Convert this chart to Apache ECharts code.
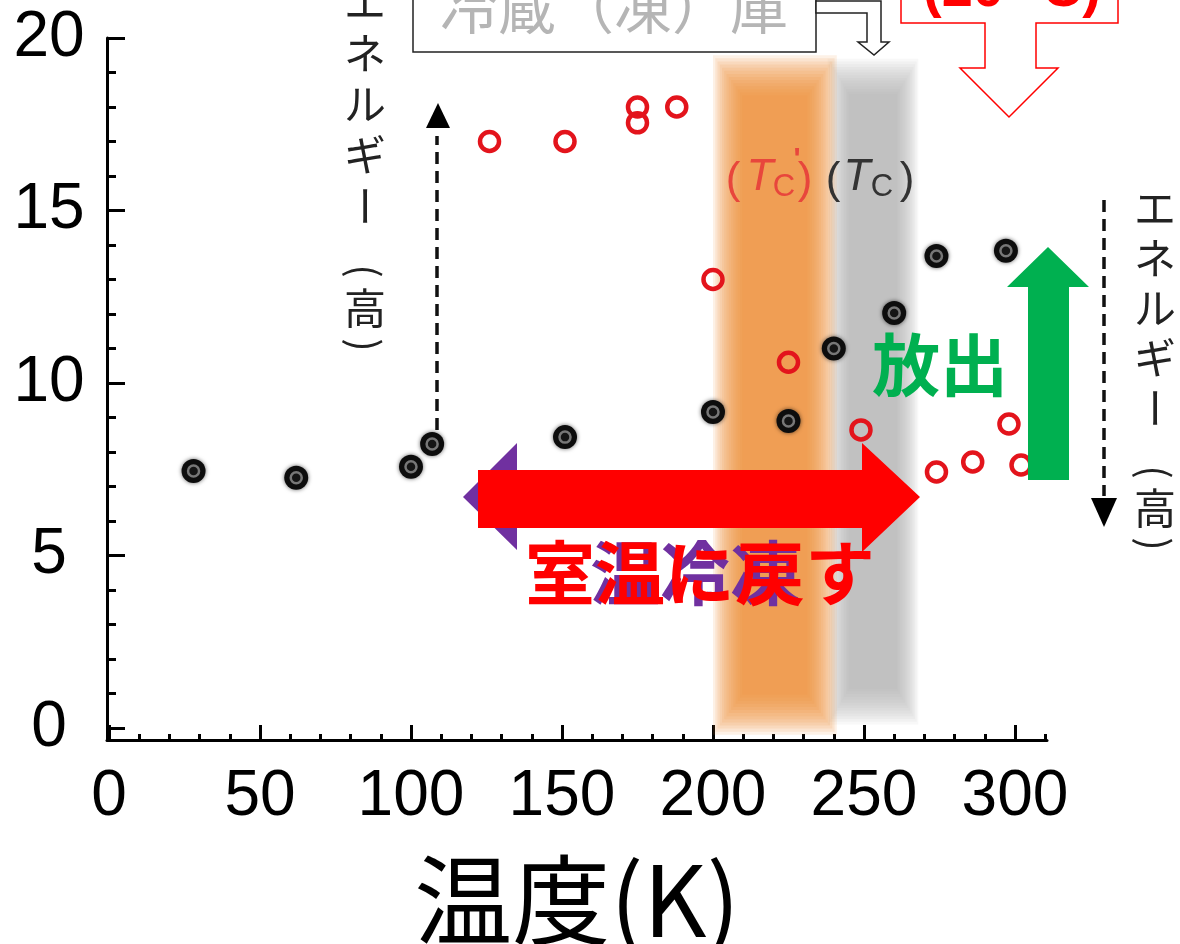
<!DOCTYPE html>
<html>
<head>
<meta charset="utf-8">
<script src="https://cdn.jsdelivr.net/npm/echarts@6/dist/echarts.min.js"></script>
<style>
  html, body { margin: 0; padding: 0; background: #fff; }
  #main { width: 1180px; height: 944px; }
</style>
</head>
<body>
<div id="main"></div>
<script>
// 黒丸 (Tc) と 赤丸 (Tc') の測定点
var blackT = [28, 62, 100, 107, 151, 200, 225, 240, 260, 274, 297];
var blackE = [7.45, 7.25, 7.57, 8.23, 8.43, 9.16, 8.9, 11.0, 12.03, 13.68, 13.83];
var redT = [126, 151, 175, 175, 188, 200, 225, 249, 274, 286, 298, 302];
var redE = [17.0, 17.0, 18.0, 17.54, 18.0, 13.0, 10.6, 8.64, 7.42, 7.71, 8.81, 7.62];

// 目盛り
var xLabels = [0, 50, 100, 150, 200, 250, 300];
var xTicks = [0, 10, 20, 30, 40, 50, 60, 70, 80, 90, 100, 110, 120, 130, 140, 150,
  160, 170, 180, 190, 200, 210, 220, 230, 240, 250, 260, 270, 280, 290, 300, 310];
var yLabels = [0, 5, 10, 15, 20];
var yTicks = [0, 1, 2, 3, 4, 5, 6, 7, 8, 9, 10, 11, 12, 13, 14, 15, 16, 17, 18, 19, 20];

// 転移温度の帯 (K) とその縦の範囲
var bandTcPrime = [200, 241];
var bandTc = [238, 268];
var bandTcPrimeE = [-0.2, 19.5];
var bandTcE = [0.1, 19.4];

function zip(a, b) {
  return a.map(function (v, i) { return [v, b[i]]; });
}

var myChart = echarts.init(document.getElementById("main"));

var numFont = "Liberation Sans";
var jpFont = "Noto Sans CJK JP";

// 帯：少しずつ内側に縮めた半透明の長方形を重ねて、ぼかしたように見せる
function bandLayers(range, yr, rgb, peak, n, sx, sy) {
  var out = [];
  var a = 1 - Math.pow(1 - peak, 1 / n);
  for (var k = 0; k < n; k++) {
    out.push([
      { xAxis: range[0] + k * sx, yAxis: yr[0] + k * sy, itemStyle: { color: "rgba(" + rgb + "," + a.toFixed(4) + ")" } },
      { xAxis: range[1] - k * sx, yAxis: yr[1] - k * sy }
    ]);
  }
  return out;
}

var xMin = -0.66, xMax = 310.6, yMin = -0.35, yMax = 20;

function txt(x, y, s, size, fill, extra) {
  var st = { x: x, y: y, text: s, align: "center", verticalAlign: "middle", fontSize: size, fontFamily: numFont, fill: fill };
  for (var k in extra) st[k] = extra[k];
  return { type: "text", z: 100, style: st };
}

// 縦書きの「エネルギー（高）」
function verticalLabel(x, y0, gap) {
  var s = { align: "center", verticalAlign: "middle", fontSize: 42, fontFamily: jpFont, fill: "#222" };
  var chars = ["エ", "ネ", "ル", "ギ"];
  var out = [];
  chars.forEach(function (ch, i) {
    out.push({ type: "text", z: 100, style: Object.assign({ x: x, y: y0 + gap * i, text: ch }, s) });
  });
  out.push({ type: "text", z: 100, x: x, y: y0 + gap * 4, rotation: -Math.PI / 2, style: Object.assign({ x: 0, y: 0, text: "ー" }, s) });
  out.push({ type: "text", z: 100, x: x, y: y0 + gap * 5 + 14, rotation: -Math.PI / 2, style: Object.assign({ x: 0, y: 0, text: "(" }, s, { fontSize: 40 }) });
  out.push({ type: "text", z: 100, style: Object.assign({ x: x, y: y0 + gap * 6, text: "高" }, s) });
  out.push({ type: "text", z: 100, x: x, y: y0 + gap * 7 - 14, rotation: -Math.PI / 2, style: Object.assign({ x: 0, y: 0, text: ")" }, s, { fontSize: 40 }) });
  return out;
}

var option = {
  backgroundColor: "#fff",
  animation: false,
  grid: {
    left: 107, top: 38, width: 940, height: 702, containLabel: false,
    outerBoundsMode: "none",
    outerBounds: { left: -2000, top: -2000, right: -2000, bottom: -2000 }
  },
  xAxis: [
    {
      type: "value", min: xMin, max: xMax,
      splitLine: { show: false },
      axisLine: { onZero: false, lineStyle: { color: "#000", width: 3 } },
      axisTick: { inside: true, length: 6, lineStyle: { color: "#000", width: 3 }, customValues: xTicks },
      axisLabel: {
        customValues: xLabels, margin: 57, verticalAlign: "middle",
        fontSize: 64, fontFamily: numFont, color: "#000"
      },
      name: "温度(K)", nameLocation: "middle", nameGap: 160,
      nameTextStyle: { fontSize: 98, lineHeight: 70, fontFamily: jpFont, color: "#000", verticalAlign: "middle" }
    },
    {
      type: "value", min: xMin, max: xMax, position: "bottom",
      splitLine: { show: false },
      axisLine: { show: false, onZero: false },
      axisTick: { inside: true, length: 15, lineStyle: { color: "#000", width: 3 }, customValues: xLabels },
      axisLabel: { show: false }
    }
  ],
  yAxis: [
    {
      type: "value", min: yMin, max: yMax,
      splitLine: { show: false },
      axisLine: { onZero: false, lineStyle: { color: "#000", width: 3 } },
      axisTick: { inside: true, length: 9, lineStyle: { color: "#000", width: 3 }, customValues: yTicks },
      axisLabel: {
        customValues: yLabels, margin: 58, align: "center",
        fontSize: 64, fontFamily: numFont, color: "#000"
      }
    },
    {
      type: "value", min: yMin, max: yMax, position: "left",
      splitLine: { show: false },
      axisLine: { show: false, onZero: false },
      axisTick: { inside: true, length: 18, lineStyle: { color: "#000", width: 3 }, customValues: yLabels },
      axisLabel: { show: false }
    }
  ],
  series: [
    {
      name: "bands",
      type: "scatter",
      data: [],
      z: 1,
      silent: true,
      markArea: {
        silent: true,
        label: { show: false },
        data: bandLayers(bandTc, bandTcE, "170,170,170", 0.72, 14, 0.55, 0.08)
          .concat(bandLayers(bandTcPrime, bandTcPrimeE, "239,146,58", 0.85, 14, 0.75, 0.09))
      }
    },
    {
      name: "Tc",
      type: "scatter",
      z: 3,
      symbol: "circle",
      symbolSize: 24,
      itemStyle: { color: "#0d0d0d", opacity: 1, shadowBlur: 4, shadowColor: "rgba(0,0,0,0.6)" },
      data: zip(blackT, blackE)
    },
    {
      name: "Tc-core",
      type: "scatter",
      z: 4,
      symbol: "circle",
      symbolSize: 11,
      itemStyle: { color: "#151515", opacity: 1, borderColor: "#777", borderWidth: 2.5 },
      data: zip(blackT, blackE)
    },
    {
      name: "Tc'",
      type: "scatter",
      z: 3,
      symbol: "circle",
      symbolSize: 19,
      itemStyle: { color: "rgba(255,255,255,0)", opacity: 1, borderColor: "#e3141c", borderWidth: 4.5 },
      data: zip(redT, redE)
    }
  ],
  graphic: [
    // 冷蔵（凍）庫 の箱と矢印
    { type: "rect", z: 100, shape: { x: 413, y: -5, width: 403, height: 57 }, style: { fill: "#fff", stroke: "#222", lineWidth: 1.5 } },
    { type: "text", z: 101, style: { x: 614, y: 7, text: "冷蔵（凍）庫", align: "center", verticalAlign: "middle", fontSize: 58, fontFamily: jpFont, fill: "#b5b5b5" } },
    { type: "polygon", z: 100, shape: { points: [[816, 1], [881, 1], [881, 42], [889, 42], [874, 55], [858, 42], [867, 42], [867, 13], [816, 13]] }, style: { fill: "#fff", stroke: "#222", lineWidth: 1.5 } },

    // (20°C) の箱と矢印
    { type: "polygon", z: 100, shape: { points: [[901, -10], [1118, -10], [1118, 23], [1036, 23], [1036, 68], [1058, 68], [1009, 117], [960, 68], [985, 68], [985, 23], [901, 23]] }, style: { fill: "#fff", stroke: "#ff0000", lineWidth: 1.5 } },
    { type: "text", z: 101, style: { x: 1012, y: -9, text: "(20 °C)", align: "center", verticalAlign: "middle", fontSize: 56, fontWeight: "bold", fontFamily: numFont, fill: "#ff0000" } },

    // 点線矢印
    { type: "line", z: 100, shape: { x1: 437, y1: 430, x2: 437, y2: 136 }, style: { stroke: "#111", lineWidth: 3.5, lineDash: [12, 7] } },
    { type: "polygon", z: 100, shape: { points: [[438, 103], [426, 128], [450, 128]] }, style: { fill: "#000" } },
    { type: "line", z: 100, shape: { x1: 1104, y1: 200, x2: 1104, y2: 496 }, style: { stroke: "#111", lineWidth: 3.5, lineDash: [12, 7] } },
    { type: "polygon", z: 100, shape: { points: [[1091, 498], [1117, 498], [1104, 527]] }, style: { fill: "#000" } },

    // Tc', Tc のラベル
    txt(733, 181, "(", 44, "#e8463c"),
    txt(760, 178, "T", 44, "#e8463c", { fontStyle: "italic" }),
    txt(784, 187, "C", 31, "#e8463c"),
    txt(797, 160, "'", 30, "#e8463c", { fontWeight: "bold" }),
    txt(805, 181, ")", 44, "#e8463c"),
    txt(833, 181, "(", 44, "#333"),
    txt(857, 178, "T", 44, "#333", { fontStyle: "italic" }),
    txt(882, 187, "C", 31, "#333"),
    txt(907, 181, ")", 44, "#333"),

    // 放出（緑の矢印）
    { type: "polygon", z: 100, shape: { points: [[1028, 480], [1069, 480], [1069, 287], [1089, 287], [1048, 247], [1007, 287], [1028, 287]] }, style: { fill: "#00b050" } },
    { type: "text", z: 100, style: { x: 940, y: 365, text: "放出", align: "center", verticalAlign: "middle", fontSize: 68, fontWeight: "bold", fontFamily: jpFont, fill: "#00b050" } },

    // 冷却（紫）と 室温に戻す（赤）
    { type: "polygon", z: 100, shape: { points: [[517, 443], [463, 497], [517, 550], [517, 527], [800, 527], [800, 470], [517, 470]] }, style: { fill: "#7030a0" } },
    { type: "polygon", z: 101, shape: { points: [[478, 470], [862, 470], [862, 443], [920, 497], [862, 552], [862, 528], [478, 528]] }, style: { fill: "#ff0000" } },
    { type: "text", z: 101, style: { x: 590, y: 573, text: "温冷凍", align: "left", verticalAlign: "middle", fontSize: 70, fontWeight: "bold", fontFamily: jpFont, fill: "#7030a0" } },
    { type: "text", z: 102, style: { x: 700, y: 573, text: "室温に戻す", align: "center", verticalAlign: "middle", fontSize: 70, fontWeight: "bold", fontFamily: jpFont, fill: "#ff0000" } }
  ].concat(verticalLabel(365, 2, 51), verticalLabel(1155, 208, 50))
};

myChart.setOption(option);
</script>
</body>
</html>
